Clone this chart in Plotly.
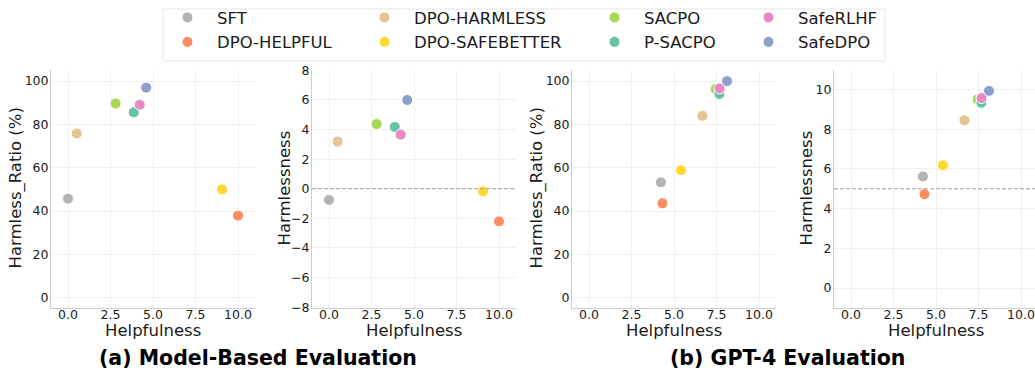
import plotly.graph_objects as go

methods = ["SFT", "DPO-HELPFUL", "DPO-HARMLESS", "DPO-SAFEBETTER",
           "SACPO", "P-SACPO", "SafeRLHF", "SafeDPO"]
colors = ["#b3b3b3", "#fc8d62", "#e5c494", "#ffd92f",
          "#a6d854", "#66c2a5", "#e78ac3", "#8da0cb"]

# (a) Model-based evaluation
mb_help = [0.0, 10.0, 0.51, 9.06, 2.8, 3.87, 4.22, 4.6]
mb_ratio = [45.7, 37.9, 75.8, 50.0, 89.7, 85.6, 89.1, 97.0]
mb_harm = [-0.75, -2.2, 3.19, -0.17, 4.37, 4.18, 3.66, 6.0]

# (b) GPT-4 evaluation
g_help = [4.23, 4.32, 6.67, 5.41, 7.45, 7.67, 7.68, 8.12]
g_ratio = [53.3, 43.6, 84.0, 58.9, 96.3, 94.1, 96.6, 100.0]
g_harm = [5.62, 4.73, 8.45, 6.19, 9.5, 9.33, 9.57, 9.93]

xticks = [0, 2.5, 5, 7.5, 10]
ratio_ticks = [0, 20, 40, 60, 80, 100]
harm_ticks_mb = [-8, -6, -4, -2, 0, 2, 4, 6, 8]
harm_ticks_g = [0, 2, 4, 6, 8, 10]
ref_lines = [None, 0, None, 5]

W, H = 1035, 370
FONT = "DejaVu Sans"

fig = go.Figure()

# legend column assignment (matplotlib column-major ncol=4)
legend_of = ["legend", "legend", "legend2", "legend2",
             "legend3", "legend3", "legend4", "legend4"]

panels = [
    (mb_help, mb_ratio, "x", "y"),
    (mb_help, mb_harm, "x2", "y2"),
    (g_help, g_ratio, "x3", "y3"),
    (g_help, g_harm, "x4", "y4"),
]

for p, (xs, ys, xa, ya) in enumerate(panels):
    for i, m in enumerate(methods):
        fig.add_trace(go.Scatter(
            x=[xs[i]], y=[ys[i]], mode="markers", name=m,
            marker=dict(size=11, color=colors[i], line=dict(color="white", width=1)),
            xaxis=xa, yaxis=ya, showlegend=(p == 0),
            legend=legend_of[i],
        ))

def px_x(v):
    return v / W

def px_y(v):
    return 1 - v / H

ydom = [px_y(306.5), px_y(63)]
xdoms = [[px_x(51), px_x(255)], [px_x(312), px_x(516)],
         [px_x(572), px_x(776)], [px_x(834), 1.0]]
xranges = [[-1, 11], [-1, 11], [-1, 11], [-1, -1 + 201 / 17]]
yranges = [[-4.7, 105.3], [-8.05, 8.05], [-4.7, 105.3], [-1, 11]]
yticks = [ratio_ticks, harm_ticks_mb, ratio_ticks, harm_ticks_g]

axis_common = dict(
    showline=True, linecolor="#cccccc", linewidth=1, mirror=False,
    showgrid=True, gridcolor="#f0f0f0", gridwidth=1, zeroline=False,
    ticks="", ticklen=0,
    tickfont=dict(family=FONT, size=12.5, color="#1a1a1a"),
    automargin=False,
)

for k in range(4):
    sfx = "" if k == 0 else str(k + 1)
    fig.layout["xaxis" + sfx] = dict(
        domain=xdoms[k], range=xranges[k], anchor="y" + sfx,
        tickvals=xticks, ticktext=[f"{t:.1f}" for t in xticks],
        ticklabelstandoff=-5, **axis_common)
    fig.layout["yaxis" + sfx] = dict(
        domain=ydom, range=yranges[k], anchor="x" + sfx,
        tickvals=yticks[k], ticklabelstandoff=-1, **axis_common)
    if ref_lines[k] is not None:
        fig.add_shape(type="line", xref=f"x{sfx} domain", yref=f"y{sfx}",
                      x0=0, x1=1, y0=ref_lines[k], y1=ref_lines[k],
                      line=dict(color="#a0a0a0", width=1, dash="4px,2px"))

# axis titles
ytitles = ["Harmless_Ratio (%)", "Harmlessness", "Harmless_Ratio (%)", "Harmlessness"]
ytitle_x = [16, 285, 537, 807]
for k in range(4):
    fig.add_annotation(text=ytitles[k], x=px_x(ytitle_x[k]), y=px_y(184.5),
                       xref="paper", yref="paper", showarrow=False, textangle=-90,
                       xanchor="center", yanchor="middle",
                       font=dict(family=FONT, size=16.5, color="#1a1a1a"))
    cx = (xdoms[k][0] * W + min(xdoms[k][0] * W + 204, 1038)) / 2
    fig.add_annotation(text="Helpfulness", x=px_x(cx), y=px_y(329.5),
                       xref="paper", yref="paper", showarrow=False,
                       xanchor="center", yanchor="middle",
                       font=dict(family=FONT, size=16.5, color="#1a1a1a"))

# captions
fig.add_annotation(text="<b>(a) Model-Based Evaluation</b>", x=px_x(258), y=px_y(358),
                   xref="paper", yref="paper", showarrow=False, xanchor="center", yanchor="middle",
                   font=dict(family=FONT, size=20.5, color="black"))
fig.add_annotation(text="<b>(b) GPT-4 Evaluation</b>", x=px_x(787), y=px_y(358),
                   xref="paper", yref="paper", showarrow=False, xanchor="center", yanchor="middle",
                   font=dict(family=FONT, size=20.5, color="black"))

# legend box
fig.add_shape(type="rect", xref="paper", yref="paper",
              x0=px_x(163), x1=px_x(885), y0=px_y(54), y1=px_y(1),
              line=dict(color="#e6e6e6", width=1), fillcolor="white", layer="below")

leg_common = dict(
    orientation="v", xanchor="left", yanchor="top", bgcolor="rgba(0,0,0,0)",
    font=dict(family=FONT, size=16.5, color="#1a1a1a"), itemwidth=49,
    tracegroupgap=0,
)
leg_x = [186, 383, 613, 767]
layout_legs = {}
for j, name in enumerate(["legend", "legend2", "legend3", "legend4"]):
    layout_legs[name] = dict(x=px_x(leg_x[j] - 28), y=px_y(-8), **leg_common)

fig.update_layout(
    width=W, height=H, autosize=False,
    margin=dict(l=0, r=0, t=0, b=0),
    plot_bgcolor="white", paper_bgcolor="white",
    **layout_legs,
)

fig.write_html("out.html", config={"displayModeBar": False},
               post_script="document.body.style.margin='0';")
